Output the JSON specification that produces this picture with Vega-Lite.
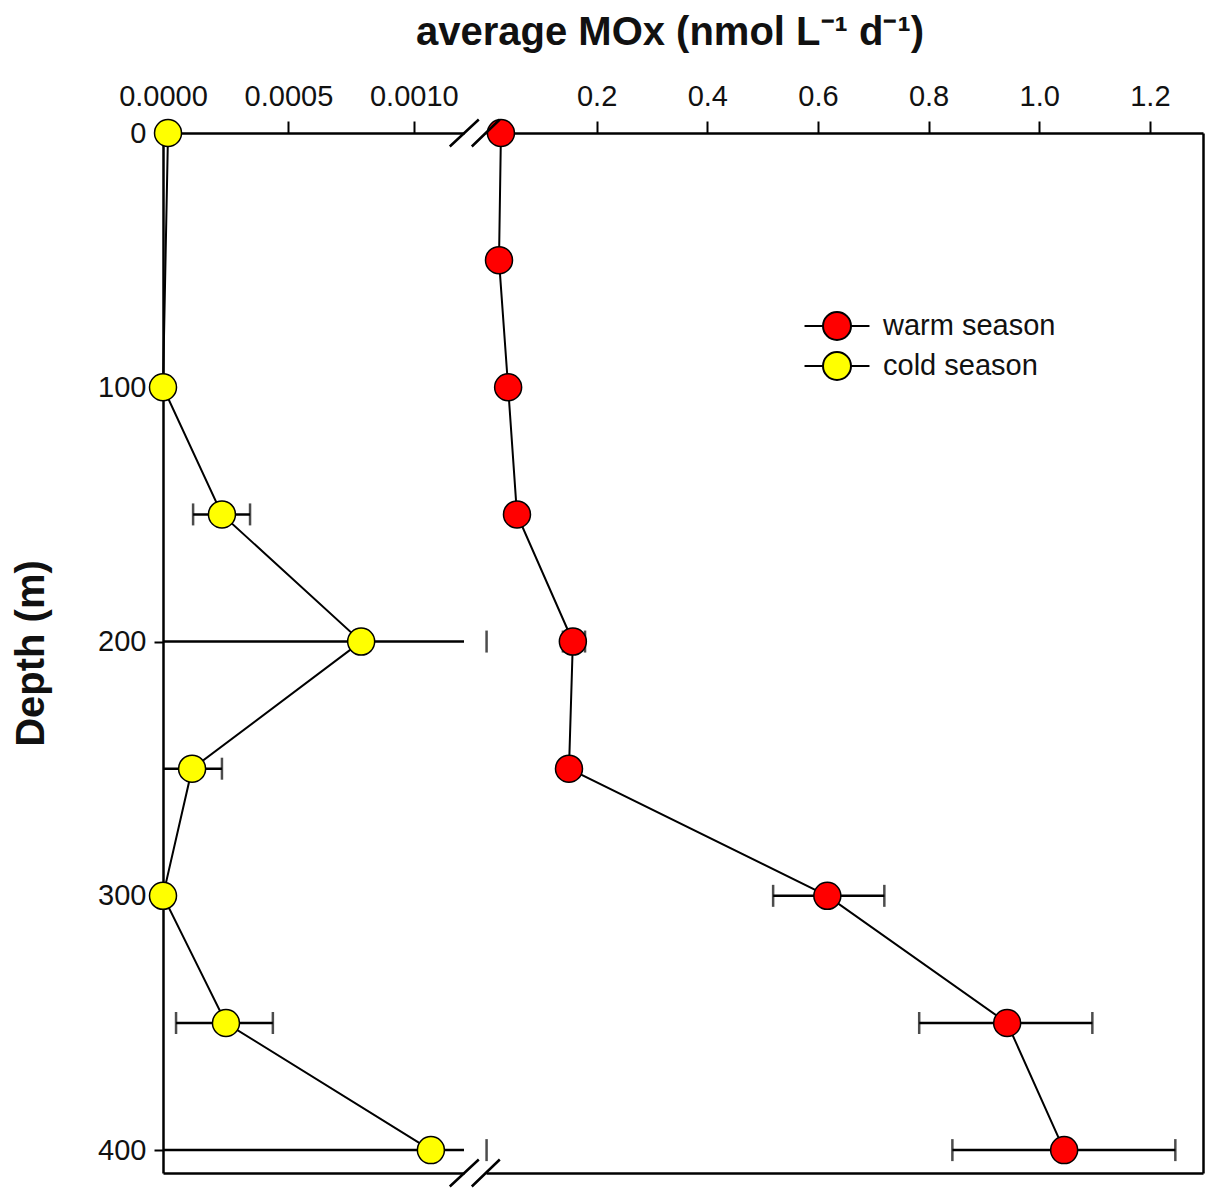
{
  "$schema": "https://vega.github.io/schema/vega-lite/v6.json",
  "autosize": {"type": "none"},
  "padding": {"left": 163, "top": 133, "right": 5, "bottom": 20},
  "width": 1040,
  "height": 1040,
  "background": "white",
  "title": {
    "text": "average MOx (nmol L⁻¹ d⁻¹)",
    "font": "Liberation Sans",
    "fontSize": 40,
    "fontWeight": "bold",
    "color": "#111111",
    "anchor": "middle",
    "offset": 29,
    "dx": -13
  },
  "config": {
    "view": {"stroke": null},
    "axis": {
      "grid": false,
      "domainColor": "#000000",
      "domainWidth": 2.5,
      "tickColor": "#000000",
      "tickWidth": 2,
      "labelFont": "Liberation Sans",
      "labelFontSize": 29,
      "labelColor": "#111111",
      "labelFlush": false,
      "labelOverlap": false,
      "titleFont": "Liberation Sans",
      "titleFontSize": 40,
      "titleFontWeight": "bold",
      "titleColor": "#111111"
    },
    "legend": {
      "orient": "none",
      "legendX": 659,
      "legendY": 178,
      "symbolType": "M-2.32,0H-1M1,0H2.32M1,0A1,1 0 1,1 -1,0A1,1 0 1,1 1,0Z",
      "symbolSize": 784,
      "symbolStrokeColor": "#000000",
      "symbolStrokeWidth": 2,
      "symbolOpacity": 1,
      "labelFont": "Liberation Sans",
      "labelFontSize": 29,
      "labelColor": "#111111",
      "labelOffset": 31,
      "labelLimit": 400,
      "rowPadding": 4,
      "padding": 0
    }
  },
  "datasets": {
    "warm": [
      {"season": "warm season", "depth": 0, "value": 0.027, "lo": null, "hi": null},
      {"season": "warm season", "depth": 50, "value": 0.0235, "lo": null, "hi": null},
      {"season": "warm season", "depth": 100, "value": 0.040, "lo": null, "hi": null},
      {"season": "warm season", "depth": 150, "value": 0.056, "lo": null, "hi": null},
      {"season": "warm season", "depth": 200, "value": 0.157, "lo": 0.139, "hi": 0.179},
      {"season": "warm season", "depth": 250, "value": 0.150, "lo": null, "hi": null},
      {"season": "warm season", "depth": 300, "value": 0.617, "lo": 0.519, "hi": 0.720},
      {"season": "warm season", "depth": 350, "value": 0.942, "lo": 0.783, "hi": 1.096},
      {"season": "warm season", "depth": 400, "value": 1.045, "lo": 0.843, "hi": 1.246}
    ],
    "cold": [
      {"season": "cold season", "depth": 0, "value": 0.00002, "lo": null, "hi": null},
      {"season": "cold season", "depth": 100, "value": 0.0, "lo": null, "hi": null},
      {"season": "cold season", "depth": 150, "value": 0.000235, "lo": 0.00012, "hi": 0.000347},
      {"season": "cold season", "depth": 200, "value": 0.00079, "lo": -0.0002, "hi": 0.00129},
      {"season": "cold season", "depth": 250, "value": 0.000116, "lo": -0.00001, "hi": 0.000235},
      {"season": "cold season", "depth": 300, "value": 0.0, "lo": null, "hi": null},
      {"season": "cold season", "depth": 350, "value": 0.000251, "lo": 0.000052, "hi": 0.000438},
      {"season": "cold season", "depth": 400, "value": 0.001068, "lo": -0.0002, "hi": 0.00129}
    ],
    "breaks": [
      {"depth": 0},
      {"depth": 409}
    ]
  },
  "layer": [
    {
      "data": {"name": "cold"},
      "mark": {"type": "line", "color": "#000000", "strokeWidth": 2},
      "encoding": {
        "x": {
          "field": "value", "type": "quantitative",
          "scale": {"domain": [0, 0.0012], "range": [0, 301], "nice": false, "zero": false},
          "axis": {"orient": "top", "values": [0, 0.0005, 0.001], "format": ".4f", "title": null, "tickSize": 12, "labelPadding": 10}
        },
        "y": {
          "field": "depth", "type": "quantitative",
          "scale": {"domain": [0, 409], "reverse": true, "nice": false, "zero": false},
          "axis": {"orient": "left", "values": [0, 100, 200, 300, 400], "title": "Depth (m)", "tickSize": 9, "labelPadding": 8, "titlePadding": 46}
        },
        "order": {"field": "depth", "type": "quantitative"}
      }
    },
    {
      "data": {"name": "warm"},
      "mark": {"type": "line", "color": "#000000", "strokeWidth": 2},
      "encoding": {
        "x": {
          "field": "value", "type": "quantitative",
          "scale": {"domain": [0, 1.296], "range": [323, 1040], "nice": false, "zero": false},
          "axis": {"orient": "top", "values": [0.2, 0.4, 0.6, 0.8, 1.0, 1.2], "format": ".1f", "title": null, "tickSize": 12, "labelPadding": 10}
        },
        "y": {
          "field": "depth", "type": "quantitative",
          "scale": {"domain": [0, 409], "reverse": true, "nice": false, "zero": false},
          "axis": {"orient": "right", "labels": false, "ticks": false, "title": null}
        },
        "order": {"field": "depth", "type": "quantitative"}
      }
    },
    {
      "data": {"name": "cold"},
      "transform": [{"filter": "datum.hi != null"}],
      "mark": {"type": "rule", "color": "#000000", "strokeWidth": 2.5},
      "encoding": {
        "x": {
          "field": "lo", "type": "quantitative",
          "scale": {"domain": [0, 0.0012], "range": [0, 301], "nice": false, "zero": false, "clamp": true},
          "axis": {"orient": "bottom", "labels": false, "ticks": false, "title": null}
        },
        "x2": {"field": "hi"},
        "y": {
          "field": "depth", "type": "quantitative",
          "scale": {"domain": [0, 409], "reverse": true, "nice": false, "zero": false},
          "axis": null
        }
      }
    },
    {
      "data": {"name": "warm"},
      "transform": [{"filter": "datum.hi != null"}],
      "mark": {"type": "rule", "color": "#000000", "strokeWidth": 2.5},
      "encoding": {
        "x": {
          "field": "lo", "type": "quantitative",
          "scale": {"domain": [0, 1.296], "range": [323, 1040], "nice": false, "zero": false},
          "axis": {"orient": "bottom", "labels": false, "ticks": false, "title": null}
        },
        "x2": {"field": "hi"},
        "y": {
          "field": "depth", "type": "quantitative",
          "scale": {"domain": [0, 409], "reverse": true, "nice": false, "zero": false},
          "axis": null
        }
      }
    },
    {
      "data": {"name": "cold"},
      "transform": [{"filter": "datum.hi != null"}],
      "mark": {"type": "tick", "orient": "vertical", "color": "#000000", "thickness": 2.5, "size": 22, "clip": true},
      "encoding": {
        "x": {
          "field": "lo", "type": "quantitative",
          "scale": {"domain": [0, 0.0012], "range": [0, 301], "nice": false, "zero": false},
          "axis": null
        },
        "y": {
          "field": "depth", "type": "quantitative",
          "scale": {"domain": [0, 409], "reverse": true, "nice": false, "zero": false},
          "axis": null
        }
      }
    },
    {
      "data": {"name": "cold"},
      "transform": [{"filter": "datum.hi != null"}],
      "mark": {"type": "tick", "orient": "vertical", "color": "#000000", "thickness": 2.5, "size": 22, "clip": true},
      "encoding": {
        "x": {
          "field": "hi", "type": "quantitative",
          "scale": {"domain": [0, 0.0012], "range": [0, 301], "nice": false, "zero": false},
          "axis": null
        },
        "y": {
          "field": "depth", "type": "quantitative",
          "scale": {"domain": [0, 409], "reverse": true, "nice": false, "zero": false},
          "axis": null
        }
      }
    },
    {
      "data": {"name": "warm"},
      "transform": [{"filter": "datum.hi != null"}],
      "mark": {"type": "tick", "orient": "vertical", "color": "#000000", "thickness": 2.5, "size": 22},
      "encoding": {
        "x": {
          "field": "lo", "type": "quantitative",
          "scale": {"domain": [0, 1.296], "range": [323, 1040], "nice": false, "zero": false},
          "axis": null
        },
        "y": {
          "field": "depth", "type": "quantitative",
          "scale": {"domain": [0, 409], "reverse": true, "nice": false, "zero": false},
          "axis": null
        }
      }
    },
    {
      "data": {"name": "warm"},
      "transform": [{"filter": "datum.hi != null"}],
      "mark": {"type": "tick", "orient": "vertical", "color": "#000000", "thickness": 2.5, "size": 22},
      "encoding": {
        "x": {
          "field": "hi", "type": "quantitative",
          "scale": {"domain": [0, 1.296], "range": [323, 1040], "nice": false, "zero": false},
          "axis": null
        },
        "y": {
          "field": "depth", "type": "quantitative",
          "scale": {"domain": [0, 409], "reverse": true, "nice": false, "zero": false},
          "axis": null
        }
      }
    },
    {
      "data": {"name": "cold"},
      "mark": {"type": "point", "filled": true, "size": 729, "stroke": "#000000", "strokeWidth": 1.5, "opacity": 1},
      "encoding": {
        "x": {
          "field": "value", "type": "quantitative",
          "scale": {"domain": [0, 0.0012], "range": [0, 301], "nice": false, "zero": false},
          "axis": null
        },
        "y": {
          "field": "depth", "type": "quantitative",
          "scale": {"domain": [0, 409], "reverse": true, "nice": false, "zero": false},
          "axis": null
        },
        "fill": {
          "field": "season", "type": "nominal",
          "scale": {"domain": ["warm season", "cold season"], "range": ["#ff0000", "#ffff00"]},
          "legend": {"title": null}
        }
      }
    },
    {
      "data": {"name": "warm"},
      "mark": {"type": "point", "filled": true, "size": 729, "stroke": "#000000", "strokeWidth": 1.5, "opacity": 1},
      "encoding": {
        "x": {
          "field": "value", "type": "quantitative",
          "scale": {"domain": [0, 1.296], "range": [323, 1040], "nice": false, "zero": false},
          "axis": null
        },
        "y": {
          "field": "depth", "type": "quantitative",
          "scale": {"domain": [0, 409], "reverse": true, "nice": false, "zero": false},
          "axis": null
        },
        "fill": {
          "field": "season", "type": "nominal",
          "scale": {"domain": ["warm season", "cold season"], "range": ["#ff0000", "#ffff00"]},
          "legend": {"title": null}
        }
      }
    },
    {
      "data": {"name": "breaks"},
      "mark": {
        "type": "point",
        "shape": "M-1,0.54L0.16,-0.54M-0.12,0.54L1,-0.54",
        "size": 2500,
        "filled": false,
        "stroke": "#000000",
        "strokeWidth": 2.5,
        "opacity": 1,
        "clip": false
      },
      "encoding": {
        "x": {
          "datum": 0.001243, "type": "quantitative",
          "scale": {"domain": [0, 0.0012], "range": [0, 301], "nice": false, "zero": false},
          "axis": null
        },
        "y": {
          "field": "depth", "type": "quantitative",
          "scale": {"domain": [0, 409], "reverse": true, "nice": false, "zero": false},
          "axis": null
        }
      }
    }
  ],
  "resolve": {
    "scale": {"x": "independent"},
    "axis": {"x": "independent", "y": "independent"}
  }
}
